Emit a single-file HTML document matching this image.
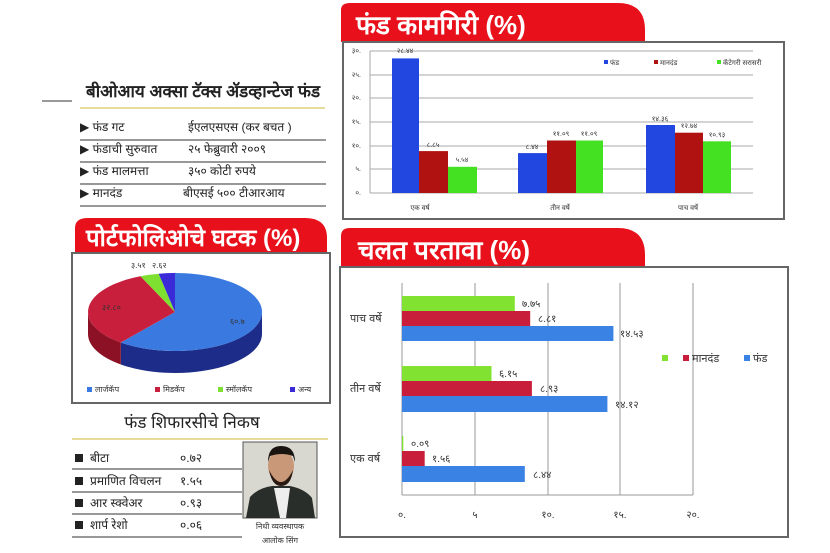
<!DOCTYPE html>
<html><head><meta charset="utf-8"><style>
html,body{margin:0;padding:0;background:#fff;}
svg{display:block;font-family:"Liberation Sans",sans-serif;}
</style></head><body>
<svg width="830" height="553" viewBox="0 0 830 553" xmlns="http://www.w3.org/2000/svg">
<rect width="830" height="553" fill="#fff"/>

<!-- ===== Top chart ===== -->
<path d="M341,42 L341,10 Q341,3 350,3 L618,3 Q645,3 645,30 L645,42 Z" fill="#e8111b"/>
<text x="356" y="34" font-size="26" font-weight="bold" fill="#fff">फंड कामगिरी (%)</text>
<rect x="343" y="42" width="441" height="177" fill="#fff" stroke="#666" stroke-width="2"/>
<g stroke="#aaa" stroke-width="1">
<line x1="370" y1="51" x2="753" y2="51"/><line x1="370" y1="75" x2="753" y2="75"/>
<line x1="370" y1="98" x2="753" y2="98"/><line x1="370" y1="122" x2="753" y2="122"/>
<line x1="370" y1="146" x2="753" y2="146"/><line x1="370" y1="169" x2="753" y2="169"/>
<line x1="370" y1="193" x2="753" y2="193"/><line x1="370" y1="51" x2="370" y2="193"/>
</g>
<g font-size="7" fill="#333" text-anchor="end">
<text x="361" y="53">३०.</text><text x="361" y="77">२५.</text><text x="361" y="100">२०.</text>
<text x="361" y="124">१५.</text><text x="361" y="148">१०.</text><text x="361" y="171">५.</text><text x="361" y="195">०.</text>
</g>
<rect x="392" y="58.4" width="27" height="134.6" fill="#2246e0"/>
<rect x="419" y="151.1" width="29" height="41.9" fill="#b01212"/>
<rect x="448" y="166.8" width="29" height="26.2" fill="#44e022"/>
<rect x="518" y="153.1" width="29" height="39.9" fill="#2246e0"/>
<rect x="547" y="140.5" width="29" height="52.5" fill="#b01212"/>
<rect x="576" y="140.5" width="27" height="52.5" fill="#44e022"/>
<rect x="646" y="125" width="29" height="68" fill="#2246e0"/>
<rect x="675" y="132.7" width="28" height="60.3" fill="#b01212"/>
<rect x="703" y="141.3" width="28" height="51.7" fill="#44e022"/>
<g font-size="7" fill="#333" text-anchor="middle">
<text x="405" y="53">२८.४४</text><text x="433" y="147">८.८५</text><text x="462" y="162">५.५४</text>
<text x="532" y="149">८.४४</text><text x="561" y="136">११.०९</text><text x="589" y="136">११.०९</text>
<text x="660" y="121">१४.३६</text><text x="689" y="128">१२.७४</text><text x="717" y="137">१०.९३</text>
<text x="420" y="210">एक वर्ष</text><text x="560" y="210">तीन वर्षे</text><text x="688" y="210">पाच वर्षे</text>
</g>
<g font-size="7" fill="#333">
<rect x="604" y="60" width="4" height="4" fill="#2246e0"/><text x="610" y="65">फंड</text>
<rect x="654" y="60" width="4" height="4" fill="#b01212"/><text x="660" y="65">मानदंड</text>
<rect x="717" y="60" width="4" height="4" fill="#44e022"/><text x="723" y="65">कॅटेगरी सरासरी</text>
</g>

<!-- ===== Left info ===== -->
<line x1="42" y1="101" x2="72" y2="101" stroke="#999" stroke-width="2"/>
<text x="86" y="97" font-size="17" font-weight="bold" fill="#222">बीओआय अक्सा टॅक्स ॲडव्हान्टेज फंड</text>
<line x1="80" y1="108" x2="325" y2="108" stroke="#e8dc9a" stroke-width="2"/>
<g font-size="12" fill="#222">
<text x="80" y="131">▶ फंड गट</text><text x="188" y="131">ईएलएसएस (कर बचत )</text>
<text x="80" y="153">▶ फंडाची सुरुवात</text><text x="188" y="153">२५ फेब्रुवारी २००९</text>
<text x="80" y="175">▶ फंड मालमत्ता</text><text x="188" y="175">३५० कोटी रुपये</text>
<text x="80" y="197">▶ मानदंड</text><text x="183" y="197">बीएसई ५०० टीआरआय</text>
</g>
<g stroke="#777" stroke-width="1.5">
<line x1="80" y1="140" x2="326" y2="140"/><line x1="80" y1="162" x2="326" y2="162"/>
<line x1="80" y1="184" x2="326" y2="184"/><line x1="80" y1="206" x2="326" y2="206"/>
</g>

<!-- ===== Pie ===== -->
<path d="M75,253 L75,228 Q75,218 88,218 L305,218 Q327,218 327,238 L327,253 Z" fill="#e8111b"/>
<text x="86" y="246" font-size="24" font-weight="bold" fill="#fff">पोर्टफोलिओचे घटक (%)</text>
<rect x="72" y="253" width="258" height="150" fill="#fff" stroke="#666" stroke-width="2"/>
<path d="M262,312 A87 39 0 0 1 120.8,342.5 L120.8,364.5 A87 39 0 0 0 262,334 Z" fill="#1c2c88"/>
<path d="M120.8,342.5 A87 39 0 0 1 88,312 L88,334 A87 39 0 0 0 120.8,364.5 Z" fill="#8c1124"/>
<path d="M175,312 L175,273 A87 39 0 1 1 120.8,342.5 Z" fill="#3a7ae0"/>
<path d="M175,312 L120.8,342.5 A87 39 0 0 1 140.5,276.2 Z" fill="#c8203c"/>
<path d="M175,312 L140.5,276.2 A87 39 0 0 1 158.7,273.7 Z" fill="#7ee030"/>
<path d="M175,312 L158.7,273.7 A87 39 0 0 1 175,273 Z" fill="#3a2ad8"/>
<g font-size="8" fill="#333">
<text x="230" y="324">६०.७</text><text x="102" y="310">३२.८०</text>
<text x="131" y="268">३.५१</text><text x="152" y="268">२.६२</text>
</g>
<g font-size="8" fill="#333">
<rect x="87" y="387" width="5" height="5" fill="#3a7ae0"/><text x="95" y="392">लार्जकॅप</text>
<rect x="155" y="387" width="5" height="5" fill="#c8203c"/><text x="163" y="392">मिडकॅप</text>
<rect x="218" y="387" width="5" height="5" fill="#7ee030"/><text x="226" y="392">स्मॉलकॅप</text>
<rect x="290" y="387" width="5" height="5" fill="#3a2ad8"/><text x="298" y="392">अन्य</text>
</g>

<!-- ===== Bottom left ===== -->
<text x="192" y="428" font-size="17" fill="#222" text-anchor="middle">फंड शिफारसीचे निकष</text>
<line x1="72" y1="439" x2="328" y2="439" stroke="#e8dc9a" stroke-width="2"/>
<g font-size="12" fill="#222">
<rect x="75" y="454" width="8" height="8" fill="#222"/><text x="90" y="462">बीटा</text><text x="180" y="462">०.७२</text>
<rect x="75" y="477" width="8" height="8" fill="#222"/><text x="90" y="485">प्रमाणित विचलन</text><text x="180" y="485">१.५५</text>
<rect x="75" y="499" width="8" height="8" fill="#222"/><text x="90" y="507">आर स्क्वेअर</text><text x="180" y="507">०.९३</text>
<rect x="75" y="521" width="8" height="8" fill="#222"/><text x="90" y="529">शार्प रेशो</text><text x="180" y="529">०.०६</text>
</g>
<g stroke="#777" stroke-width="1.5">
<line x1="72" y1="469" x2="242" y2="469"/><line x1="72" y1="492" x2="242" y2="492"/>
<line x1="72" y1="514" x2="242" y2="514"/><line x1="72" y1="537" x2="242" y2="537"/>
</g>
<rect x="243" y="442" width="74" height="76" fill="#d8d8d0" stroke="#555"/>
<path d="M246,518 L250,497 Q258,488 272,486 L290,486 Q305,489 312,498 L315,518 Z" fill="#2a2e2a"/>
<path d="M274,488 L280,518 L286,518 L290,488 Z" fill="#eee"/>
<ellipse cx="281" cy="466" rx="13" ry="16" fill="#c89878"/>
<path d="M268,462 Q268,446 281,446 Q295,446 295,462 L293,456 Q282,452 270,456 Z" fill="#1a1410"/>
<path d="M269,470 Q272,486 281,486 Q291,486 293,470 Q287,482 281,482 Q275,482 269,470 Z" fill="#2a1a12"/>
<g font-size="8" fill="#333" text-anchor="middle">
<text x="280" y="529">निधी व्यवस्थापक</text><text x="280" y="543">आलोक सिंग</text>
</g>

<!-- ===== Bottom right chart ===== -->
<path d="M341,267 L341,236 Q341,228 350,228 L618,228 Q645,228 645,255 L645,267 Z" fill="#e8111b"/>
<text x="358" y="259" font-size="26" font-weight="bold" fill="#fff">चलत परतावा (%)</text>
<rect x="340" y="267" width="448" height="270" fill="#fff" stroke="#666" stroke-width="2"/>
<g stroke="#999" stroke-width="1">
<line x1="402" y1="283" x2="402" y2="495"/><line x1="475" y1="283" x2="475" y2="495"/>
<line x1="548" y1="283" x2="548" y2="495"/><line x1="620" y1="283" x2="620" y2="495"/>
<line x1="693" y1="283" x2="693" y2="495"/><line x1="402" y1="495" x2="693" y2="495"/>
</g>
<rect x="402" y="296" width="112.8" height="15" fill="#82e232"/>
<rect x="402" y="311" width="128.2" height="15" fill="#c81e3c"/>
<rect x="402" y="326" width="211.4" height="15" fill="#3a82e4"/>
<rect x="402" y="366" width="89.5" height="15" fill="#82e232"/>
<rect x="402" y="381" width="129.9" height="15" fill="#c81e3c"/>
<rect x="402" y="396" width="205.4" height="16" fill="#3a82e4"/>
<rect x="402" y="436" width="1.3" height="15" fill="#82e232"/>
<rect x="402" y="451" width="22.7" height="15" fill="#c81e3c"/>
<rect x="402" y="466" width="122.8" height="16" fill="#3a82e4"/>
<g font-size="10" fill="#333">
<text x="522" y="307">७.७५</text><text x="538" y="322">८.८१</text><text x="620" y="337">१४.५३</text>
<text x="499" y="377">६.१५</text><text x="540" y="392">८.९३</text><text x="615" y="408">१४.१२</text>
<text x="411" y="447">०.०९</text><text x="432" y="462">१.५६</text><text x="533" y="478">८.४४</text>
</g>
<g font-size="11" fill="#333">
<text x="350" y="322">पाच वर्षे</text><text x="350" y="392">तीन वर्षे</text><text x="350" y="462">एक वर्ष</text>
</g>
<g font-size="10" fill="#333" text-anchor="middle">
<text x="402" y="518">०.</text><text x="475" y="518">५</text><text x="548" y="518">१०.</text>
<text x="620" y="518">१५.</text><text x="693" y="518">२०.</text>
</g>
<rect x="662" y="355" width="6" height="6" fill="#82e232"/>
<rect x="683" y="355" width="6" height="6" fill="#c81e3c"/>
<text x="692" y="362" font-size="11" fill="#333">मानदंड</text>
<rect x="744" y="355" width="6" height="6" fill="#3a82e4"/>
<text x="753" y="362" font-size="11" fill="#333">फंड</text>
</svg>
</body></html>
